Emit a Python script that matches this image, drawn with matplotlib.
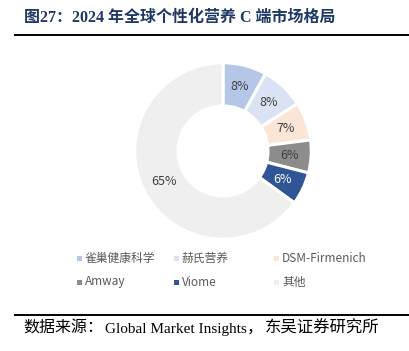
import matplotlib.pyplot as plt
from matplotlib.patches import Rectangle
from matplotlib.lines import Line2D

# data
labels = ['雀巢健康科学', '赫氏营养', 'DSM-Firmenich', 'Amway', 'Viome', '其他']
shares = [8, 8, 7, 6, 6, 65]
colors = ['#b4c7e7', '#dae3f3', '#fbe5d6', '#8c8c8c', '#2f5597', '#efefef']
text_colors = ['#404040', '#404040', '#404040', '#404040', '#ffffff', '#404040']

title = '图27：2024 年全球个性化营养 C 端市场格局'
# source line split into pieces (CJK set wider than latin in the original)
source_parts = ['数据来源：', 'Global Market Insights', '，', '东吴证券研究所']
source_x = [23, 105, 247, 265]
source_size = [11.5, 11, 11.5, 11.8]

W, H = 409, 351
fig = plt.figure(figsize=(W / 100, H / 100), dpi=100)
fig.patch.set_facecolor('white')

serif_cjk = ['Liberation Serif', 'Noto Sans CJK SC']
sans_cjk = ['Noto Sans CJK SC', 'DejaVu Sans']

# title and rules
fig.text(24 / W, 1 - 18 / H, title, fontsize=11.5, fontweight='bold',
         color='#1f3864', family=serif_cjk, va='center', ha='left')
fig.add_artist(Line2D([15 / W, 1], [1 - 35 / H, 1 - 35 / H], color='black', lw=1.4))
fig.add_artist(Line2D([15 / W, 1], [1 - 315 / H, 1 - 315 / H], color='black', lw=1.4))
for part, x, fs in zip(source_parts, source_x, source_size):
    fig.text(x / W, 1 - 333 / H, part, fontsize=fs, color='black',
             family=serif_cjk, va='baseline', ha='left')

# donut
cx, cy, r = 223, 151, 90
ax = fig.add_axes([(cx - r) / W, 1 - (cy + r) / H, 2 * r / W, 2 * r / H])
wedges, texts = ax.pie(shares, colors=colors, startangle=90, counterclock=False,
                       radius=1, labels=[f'{s}%' for s in shares], labeldistance=0.75,
                       wedgeprops=dict(width=0.49, edgecolor='white', linewidth=2.2),
                       textprops=dict(fontsize=9, family=sans_cjk))
for t, c in zip(texts, text_colors):
    t.set_color(c)
    t.set_ha('center')
    t.set_va('center')
ax.set_xlim(-1.02, 1.02)
ax.set_ylim(-1.02, 1.02)
ax.set_aspect('equal')
ax.axis('off')

# legend, fixed-width columns
col_x = [79, 176, 276]
row_y = [258, 282]
for i, (lab, col) in enumerate(zip(labels, colors)):
    x = col_x[i % 3]
    y = row_y[i // 3]
    fig.add_artist(Rectangle((x / W - 2.5 / W, 1 - y / H - 2.5 / H), 5 / W, 5 / H,
                             transform=fig.transFigure, facecolor=col, edgecolor='none'))
    fig.text((x + 6) / W, 1 - y / H, lab, fontsize=8.5, color='#595959',
             family=sans_cjk, va='center', ha='left')

fig.savefig('out.png', dpi=100)
